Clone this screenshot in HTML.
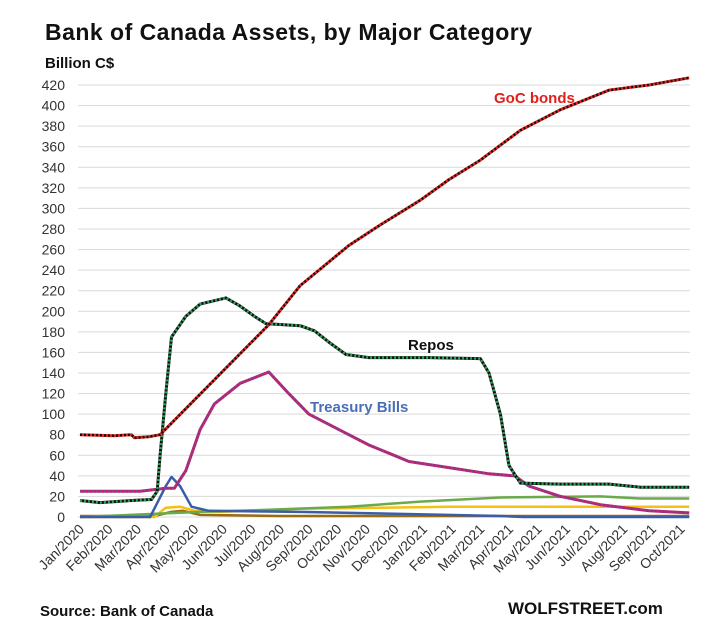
<!DOCTYPE html>
<html><head><meta charset="utf-8">
<style>
body{margin:0;background:#fff;width:708px;height:630px;overflow:hidden;font-family:"Liberation Sans",sans-serif}
svg text{font-family:"Liberation Sans","Noto Sans CJK SC",sans-serif}
</style></head><body>
<svg id="chart" width="708" height="630" viewBox="0 0 708 630">
<text x="45" y="40" font-size="23" font-weight="bold" fill="#111" textLength="487">Bank of Canada  Assets, by Major Category</text>
<text x="45" y="68" font-size="15" font-weight="bold" fill="#111">Billion C$</text>
<g id="grid"></g><g id="ylabels"></g><g id="xlabels"></g><g id="series"></g>
<text x="494" y="103" font-size="15" font-weight="bold" fill="#e0201b">GoC bonds</text>
<text x="408" y="350" font-size="15" font-weight="bold" fill="#111">Repos</text>
<text x="310" y="412" font-size="15" font-weight="bold" fill="#4a6fb5">Treasury Bills</text>
<text x="40" y="616" font-size="15" font-weight="bold" fill="#111">Source: Bank of Canada</text>
<text x="508" y="614" font-size="17" font-weight="bold" fill="#111">WOLFSTREET.com</text>
</svg>
<script>
const months=["Jan/2020","Feb/2020","Mar/2020","Apr/2020","May/2020","Jun/2020","Jul/2020","Aug/2020","Sep/2020","Oct/2020","Nov/2020","Dec/2020","Jan/2021","Feb/2021","Mar/2021","Apr/2021","May/2021","Jun/2021","Jul/2021","Aug/2021","Sep/2021","Oct/2021"];
const yTicks=[0,20,40,60,80,100,120,140,160,180,200,220,240,260,280,300,320,340,360,380,400,420];
const gocT=[0,1.2,1.8,1.9,2.4,2.8,6.6,7.7,9.4,10.5,11.9,12.9,14,15.4,16.8,18.5,19.9,21.3];
const gocV=[80,79,80,77,78,80,187,225,264,284,308,328,347,376,396,415,420,427];
const repoT=[0,0.7,1.8,2.5,2.7,2.8,3.0,3.2,3.7,4.2,5.1,5.6,6.1,6.5,7.7,8.2,8.7,9.3,10.1,12.2,14,14.3,14.7,15,15.4,16.8,18.5,19.6,21.3];
const repoV=[16,14,16,17,25,60,120,175,195,207,213,205,195,188,186,181,170,158,155,155,154,140,100,50,33,32,32,29,29];
const tbT=[0,2.1,3.0,3.3,3.7,4.2,4.7,5.6,6.6,7.3,8.0,9.4,10.1,10.8,11.5,12.9,14.3,15.2,15.7,16.8,18.2,19.9,21.3];
const tbV=[25,25,28,28,45,85,110,130,141,120,100,80,70,62,54,48,42,40,30,20,12,6,4];
const billT=[0,2.45,3.0,3.2,3.5,3.9,4.5,7.7,11.2,14.7,15.5,21.3];
const billV=[0,0,30,39,30,10,6,5,3,1,0,0];
const otherT=[0,4.2,6.6,9.4,11.9,14.7,18.2,19.6,21.3];
const otherV=[0,5,7,10,15,19,20,18,18];
const yelT=[0,2.6,3.0,3.5,4.0,4.9,7.7,10.5,12.9,15.7,21.3];
const yelV=[0,0,9,10,6,5,8,9,10,10,10];
const brnT=[0,2.6,3.2,3.6,4.2,7,21.3];
const brnV=[1,1,5,6,2,1,1];
const NS="http://www.w3.org/2000/svg";
const X0=80,MW=28.6,Y0=517,YS=432/420,GL=78,GR=690;
const xs=m=>X0+m*MW, ys=v=>Y0-v*YS;
function mk(t,a,p){const e=document.createElementNS(NS,t);for(const k in a)e.setAttribute(k,a[k]);document.getElementById(p).appendChild(e);return e;}
yTicks.forEach(v=>{
 const l=mk('line',{x1:GL,x2:GR,y1:ys(v),y2:ys(v),stroke:'#d9d9d9','stroke-width':1},'grid');
 
 
 const t=mk('text',{x:65,y:ys(v)+5,'text-anchor':'end','font-size':14,fill:'#333'},'ylabels');
 
 
 t.textContent=v;
});
months.forEach((m,i)=>{
 const x=xs(i)+5,y=530;
 const t=mk('text',{x:x,y:y,'text-anchor':'end','font-size':14,fill:'#333',transform:`rotate(-45 ${x} ${y})`},'xlabels');
 
 
 t.textContent=m;
});
function pts(T,V){return T.map((t,i)=>xs(t).toFixed(1)+','+ys(V[i]).toFixed(1)).join(' ');}
function line(name,T,V,color,w,dot){
 const p=mk('polyline',{points:pts(T,V),fill:'none',stroke:color,'stroke-width':w,'stroke-linejoin':'round'},'series');
 
 
 if(dot){const d=mk('polyline',{points:pts(T,V),fill:'none',stroke:dot,'stroke-width':w-0.5,'stroke-dasharray':'2 2'},'series');
 
 }
}
line('series-brown',brnT,brnV,'#9c6b10',2.5);
line('series-yellow',yelT,yelV,'#f5c012',2.5);
line('series-other-green',otherT,otherV,'#6aaa4a',2.5);
line('series-blue',billT,billV,'#3a5da8',2.5);
line('series-treasury-bills',tbT,tbV,'#c02060',3,'#8a3fa0');
line('series-repos',repoT,repoV,'#111',3,'#2fa35a');
line('series-goc-bonds',gocT,gocV,'#e52520',3,'#111');
</script>
</body></html>
